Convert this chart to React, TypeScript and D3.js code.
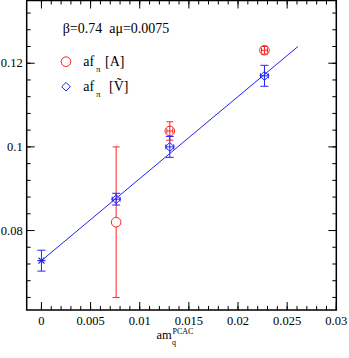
import React from 'react';
import * as d3 from 'd3';

// af_pi [A] (red circles)
const axialX = [0.0076, 0.01306, 0.02269];
const axialY = [0.082, 0.1038, 0.1231];
const axialYErr = [0.018, 0.0022, 0.0009];
const axialXErr = [0, 0.0003, 0.0003];

// af_pi [V~] (blue diamonds)
const vectorX = [0.0076, 0.01306, 0.02269];
const vectorY = [0.0875, 0.1, 0.117];
const vectorYErr = [0.0014, 0.0025, 0.0025];
const vectorXErr = [0.0004, 0.0004, 0.0004];

// chiral extrapolation (blue star) and linear fit
const extrapX = [0];
const extrapY = [0.0728];
const extrapYErr = [0.0025];
const fitX = [0, 0.0261];
const fitY = [0.0728, 0.124];

const xTicks = [0, 0.005, 0.01, 0.015, 0.02, 0.025, 0.03];
const xTickLabels = ['0', '0.005', '0.01', '0.015', '0.02', '0.025', '0.03'];
const yTicks = [0.08, 0.1, 0.12];
const yTickLabels = ['0.08', '0.1', '0.12'];

const W = 349;
const H = 358;
const margin = { left: 26.7, right: 12.7, top: 0.5, bottom: 48 };
const FONT = "Times, 'Times New Roman', 'Liberation Serif', 'DejaVu Serif', serif";
const RED = '#ff2020';
const BLUE = '#2020ff';

const App = () => {
  const x = d3.scaleLinear().domain([-0.0015, 0.03]).range([margin.left, W - margin.right]);
  const y = d3.scaleLinear().domain([0.061, 0.135]).range([H - margin.bottom, margin.top]);
  const x0 = margin.left;
  const x1 = W - margin.right;
  const y0 = H - margin.bottom;
  const y1 = margin.top;

  const xMinor = d3.range(0, 0.0301, 0.001).filter(v => v >= -0.0015);
  const yMinor = d3.range(0.064, 0.1345, 0.004);

  const line = d3.line<number>().x((d, i) => x(fitX[i])).y((d, i) => y(fitY[i]));

  // long error bars leave the symbol open, short ones run through it
  const errBar = (px, py, ex, ey, color, cap, key, r = 0) => {
    const cx = x(px);
    const cy = y(py);
    const top = y(py + ey);
    const bot = y(py - ey);
    const gap = bot - top > 40 ? r : 0;
    return (
      <g key={key} stroke={color} strokeWidth={1}>
        <line x1={cx} x2={cx} y1={top} y2={cy - gap} />
        <line x1={cx} x2={cx} y1={cy + gap} y2={bot} />
        <line x1={cx - cap} x2={cx + cap} y1={top} y2={top} />
        <line x1={cx - cap} x2={cx + cap} y1={bot} y2={bot} />
        {ex > 0 && (
          <>
            <line x1={x(px - ex)} x2={x(px + ex)} y1={cy} y2={cy} />
            <line x1={x(px - ex)} x2={x(px - ex)} y1={cy - 2.5} y2={cy + 2.5} />
            <line x1={x(px + ex)} x2={x(px + ex)} y1={cy - 2.5} y2={cy + 2.5} />
          </>
        )}
      </g>
    );
  };

  const diamond = (cx, cy, r) => `M${cx},${cy - r}L${cx + r},${cy}L${cx},${cy + r}L${cx - r},${cy}Z`;

  return (
    <svg width={W} height={H} style={{ position: 'absolute', left: 0, top: 0, background: '#fff', fontFamily: FONT }}>
      <rect x={0} y={0} width={W} height={H} fill="#fff" />

      {/* ticks on all four sides, pointing inward */}
      <g stroke="#000" strokeWidth={1}>
        {xMinor.map((v, i) => (
          <g key={'xm' + i}>
            <line x1={x(v)} x2={x(v)} y1={y0} y2={y0 - 4} />
            <line x1={x(v)} x2={x(v)} y1={y1} y2={y1 + 4} />
          </g>
        ))}
        {xTicks.map((v, i) => (
          <g key={'xt' + i}>
            <line x1={x(v)} x2={x(v)} y1={y0} y2={y0 - 8} />
            <line x1={x(v)} x2={x(v)} y1={y1} y2={y1 + 8} />
          </g>
        ))}
        {yMinor.map((v, i) => (
          <g key={'ym' + i}>
            <line x1={x0} x2={x0 + 4} y1={y(v)} y2={y(v)} />
            <line x1={x1} x2={x1 - 4} y1={y(v)} y2={y(v)} />
          </g>
        ))}
        {yTicks.map((v, i) => (
          <g key={'yt' + i}>
            <line x1={x0} x2={x0 + 8} y1={y(v)} y2={y(v)} />
            <line x1={x1} x2={x1 - 8} y1={y(v)} y2={y(v)} />
          </g>
        ))}
      </g>

      <g style={{ fontFamily: FONT, fontSize: '12.5px' }} fill="#000">
        {xTicks.map((v, i) => (
          <text key={'xl' + i} x={x(v)} y={y0 + 15} textAnchor="middle">{xTickLabels[i]}</text>
        ))}
        {yTicks.map((v, i) => (
          <text key={'yl' + i} x={x0 - 4} y={y(v) + 4} textAnchor="end">{yTickLabels[i]}</text>
        ))}
      </g>

      {/* fit line */}
      <path d={line(fitX) || ''} fill="none" stroke={BLUE} strokeWidth={1} />

      {/* red points */}
      {axialX.map((v, i) => errBar(v, axialY[i], axialXErr[i], axialYErr[i], RED, 3.5, 'ae' + i, 4.8))}
      {axialX.map((v, i) => (
        <circle key={'ac' + i} cx={x(v)} cy={y(axialY[i])} r={4.8} fill="none" stroke={RED} strokeWidth={1} />
      ))}

      {/* blue points */}
      {vectorX.map((v, i) => errBar(v, vectorY[i], vectorXErr[i], vectorYErr[i], BLUE, 4, 've' + i))}
      {vectorX.map((v, i) => (
        <path key={'vd' + i} d={diamond(x(v), y(vectorY[i]), 4.5)} fill="none" stroke={BLUE} strokeWidth={1} />
      ))}

      {/* extrapolated point */}
      {extrapX.map((v, i) => errBar(v, extrapY[i], 0, extrapYErr[i], BLUE, 4, 'ee' + i))}
      {extrapX.map((v, i) => {
        const cx = x(v);
        const cy = y(extrapY[i]);
        return (
          <g key={'es' + i} stroke={BLUE} strokeWidth={1.2}>
            <line x1={cx - 4} x2={cx + 4} y1={cy} y2={cy} />
            <line x1={cx - 3} x2={cx + 3} y1={cy - 3} y2={cy + 3} />
            <line x1={cx - 3} x2={cx + 3} y1={cy + 3} y2={cy - 3} />
          </g>
        );
      })}

      {/* frame */}
      <rect x={x0} y={y1} width={x1 - x0} height={y0 - y1} fill="none" stroke="#000" strokeWidth={1.5} />

      {/* annotations and legend */}
      <g style={{ fontFamily: FONT }} fill="#000">
        <text x={62.7} y={33.3} style={{ fontSize: '14px', whiteSpace: 'pre' }}>β=0.74  aμ=0.0075</text>
        <circle cx={66} cy={61.7} r={4.8} fill="none" stroke={RED} strokeWidth={1} />
        <text x={83.3} y={65.5} style={{ fontSize: '14px' }}>af</text>
        <text x={96} y={71.5} style={{ fontSize: '9px' }}>π</text>
        <text x={105} y={65.5} style={{ fontSize: '14px' }}>[A]</text>
        <path d={diamond(66, 86.7, 4.3)} fill="none" stroke={BLUE} strokeWidth={1} />
        <text x={83.3} y={91} style={{ fontSize: '14px' }}>af</text>
        <text x={96} y={97} style={{ fontSize: '9px' }}>π</text>
        <text x={109} y={91} style={{ fontSize: '14px' }}>[Ṽ]</text>
        <text x={156.5} y={338.5} style={{ fontSize: '12.5px' }}>am</text>
        <text x={172} y={344.5} style={{ fontSize: '8px' }}>q</text>
        <text x={172.5} y={333.5} style={{ fontSize: '8px' }}>PCAC</text>
      </g>
    </svg>
  );
};

export default App;
